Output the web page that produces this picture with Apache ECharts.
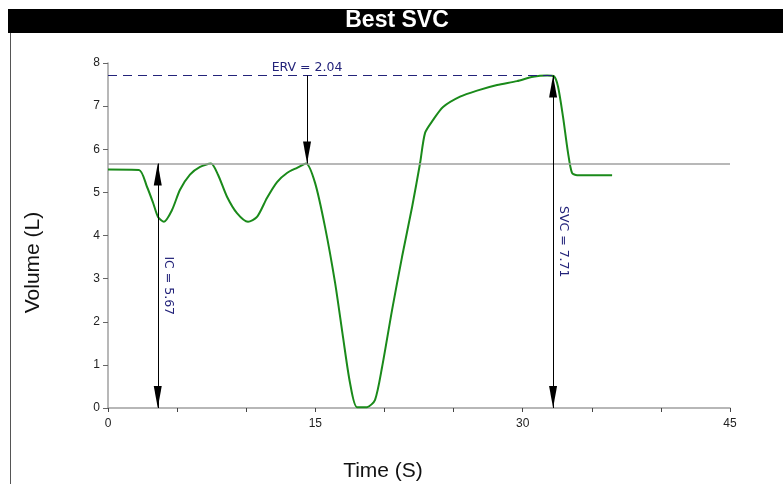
<!DOCTYPE html>
<html>
<head>
<meta charset="utf-8">
<script src="https://cdn.jsdelivr.net/npm/echarts@6/dist/echarts.min.js"></script>
<style>
  html, body { margin: 0; padding: 0; background: #fff; }
  #chart { width: 783px; height: 484px; }
</style>
</head>
<body>
<div id="chart"></div>
<script>
// 曲线数据 (时间 s, 容积 L)
const times = [0, 2.24, 2.82, 3.26, 3.62, 4.05, 4.63, 5.21, 5.93, 6.66, 7.45, 7.96, 8.61, 9.33, 10.13,
  10.78, 11.5, 12.23, 12.95, 13.68, 14.33, 14.98, 15.7, 16.43, 17.0, 17.51, 18.01, 18.74, 19.32,
  19.83, 20.55, 21.27, 22.0, 22.58, 22.94, 23.52, 24.24, 25.47, 26.7, 28.15, 29.59, 30.75, 31.77,
  32.27, 32.56, 32.92, 33.28, 33.57, 33.94, 36.47]
const volumes = [5.53, 5.52, 5.13, 4.76, 4.43, 4.32, 4.59, 5.06, 5.41, 5.59, 5.67, 5.41, 4.9, 4.52, 4.32,
  4.43, 4.87, 5.24, 5.45, 5.57, 5.67, 5.22, 4.2, 2.9, 1.65, 0.58, 0.02, 0.02, 0.19,
  0.95, 2.27, 3.5, 4.66, 5.68, 6.38, 6.68, 6.98, 7.22, 7.36, 7.49, 7.58, 7.68, 7.71,
  7.69, 7.45, 6.75, 5.92, 5.45, 5.4, 5.4]

// 标注
const restLevel = 5.67
const peakLevel = 7.71
const icTime = 3.6
const ervTime = 14.4
const svcTime = 32.2
const annoLabels = ['IC = 5.67', 'ERV = 2.04', 'SVC = 7.71']
const xLabelTicks = [0, 15, 30, 45]

const chart = echarts.init(document.getElementById('chart'))
const navy = '#23237a'
const arrow = 'triangle'
const arrowSize = [8, 22]
const arrowOffset = [0, 11] // 让箭头尖端落在端点上

let option = {
  animation: false,
  textStyle: { fontFamily: 'Liberation Sans, Arial, sans-serif' },
  graphic: [
    { type: 'rect', shape: { x: 8, y: 9, width: 775, height: 24 }, style: { fill: '#000' } },
    {
      type: 'text', x: 397, y: 21,
      style: { text: 'Best SVC', fill: '#fff', font: 'bold 23px Liberation Sans', align: 'center', verticalAlign: 'middle' },
    },
    { type: 'line', shape: { x1: 10.5, y1: 33, x2: 10.5, y2: 484 }, style: { stroke: '#555', lineWidth: 1 } },
  ],
  grid: { left: 108, right: 53, top: 63, bottom: 76, outerBoundsMode: 'none' },
  xAxis: {
    type: 'value',
    min: 0,
    max: 45,
    interval: 5,
    name: 'Time (S)',
    nameLocation: 'middle',
    nameGap: 53,
    nameTextStyle: { fontSize: 21, color: '#111', padding: [0, 72, 0, 0] },
    axisLine: { lineStyle: { color: '#a0a0a0', width: 1.5 } },
    axisTick: { show: true, length: 4, lineStyle: { color: '#444' } },
    axisLabel: {
      color: '#222',
      fontSize: 12,
      margin: 10,
      formatter(val) {
        return xLabelTicks.indexOf(val) >= 0 ? String(val) : ''
      },
    },
    splitLine: { show: false },
  },
  yAxis: {
    type: 'value',
    min: 0,
    max: 8,
    interval: 1,
    name: 'Volume (L)',
    nameLocation: 'middle',
    nameGap: 64,
    nameTextStyle: { fontSize: 21, color: '#111', padding: [0, 54, 0, 0] },
    axisLine: { show: true, lineStyle: { color: '#a0a0a0', width: 1.5 } },
    axisTick: { show: true, length: 5, lineStyle: { color: '#666' } },
    axisLabel: { color: '#222', fontSize: 12, margin: 8 },
    splitLine: { show: false },
  },
  series: [
    {
      type: 'line',
      data: times.map((t, i) => [t, volumes[i]]),
      showSymbol: false,
      smooth: 0.25,
      lineStyle: { color: '#1a8a1a', width: 2 },
      z: 3,
      markLine: {
        silent: true,
        animation: false,
        data: [
          // 参考线
          [
            { coord: [0, restLevel], symbol: 'none' },
            { coord: [45, restLevel], symbol: 'none', lineStyle: { color: '#a0a0a0', type: 'solid', width: 1.5 }, label: { show: false } },
          ],
          // 峰值虚线
          [
            { coord: [0, peakLevel], symbol: 'none' },
            { coord: [svcTime, peakLevel], symbol: 'none', lineStyle: { color: navy, type: [9, 6], width: 1 }, label: { show: false } },
          ],
          // IC
          [
            { coord: [icTime, restLevel], symbol: arrow, symbolSize: arrowSize, symbolOffset: arrowOffset },
            {
              coord: [icTime, 0], symbol: arrow, symbolSize: arrowSize, symbolOffset: arrowOffset,
              lineStyle: { color: '#000', type: 'solid', width: 1 },
              label: { show: true, position: 'middle', formatter: annoLabels[0], color: navy, fontSize: 12.5, fontFamily: 'DejaVu Sans', distance: 4 },
            },
          ],
          // ERV
          [
            { coord: [ervTime, peakLevel], symbol: 'none' },
            {
              coord: [ervTime, restLevel], symbol: arrow, symbolSize: arrowSize, symbolOffset: arrowOffset,
              lineStyle: { color: '#000', type: 'solid', width: 1 },
              label: { show: true, position: 'start', formatter: annoLabels[1], color: navy, fontSize: 12.5, fontFamily: 'DejaVu Sans', distance: 1 },
            },
          ],
          // SVC
          [
            { coord: [svcTime, peakLevel], symbol: arrow, symbolSize: arrowSize, symbolOffset: arrowOffset },
            {
              coord: [svcTime, 0], symbol: arrow, symbolSize: arrowSize, symbolOffset: arrowOffset,
              lineStyle: { color: '#000', type: 'solid', width: 1 },
              label: { show: true, position: 'middle', formatter: annoLabels[2], color: navy, fontSize: 12.5, fontFamily: 'DejaVu Sans', distance: 4 },
            },
          ],
        ],
        itemStyle: { color: '#000' },
      },
    },
  ],
}
chart.setOption(option)
window.addEventListener('resize', () => {
  chart.resize()
})
</script>
</body>
</html>
